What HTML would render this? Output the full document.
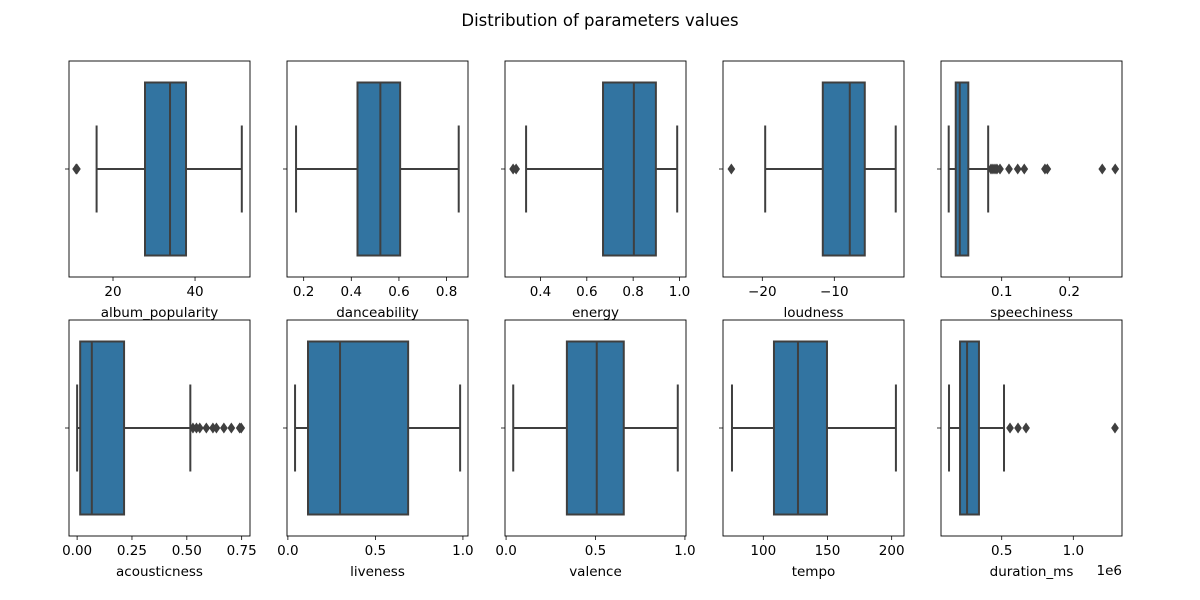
<!DOCTYPE html>
<html><head><meta charset="utf-8"><style>
body{margin:0;background:#fff}
svg{display:block;font-family:"DejaVu Sans","Liberation Sans",sans-serif}
</style></head><body>
<svg id="fig" width="1200" height="600">
<text x="600" y="26" text-anchor="middle" font-size="16.5" fill="#000">Distribution of parameters values</text>
</svg>
<script>
// data per subplot
const names = ["album_popularity","danceability","energy","loudness","speechiness","acousticness","liveness","valence","tempo","duration_ms"];
const domains = [[9.27,53.4],[0.130,0.890],[0.247,1.028],[-25.46,-0.32],[0.0102,0.278],[-0.037,0.788],[-0.005,1.029],[-0.006,1.006],[68.6,209.6],[0.076,1.34]];
const ticks = [[20,40],[0.2,0.4,0.6,0.8],[0.4,0.6,0.8,1.0],[-20,-10],[0.1,0.2],[0,0.25,0.5,0.75],[0,0.5,1.0],[0,0.5,1.0],[100,150,200],[0.5,1.0]];
const tickLabels = [["20","40"],["0.2","0.4","0.6","0.8"],["0.4","0.6","0.8","1.0"],["\u221220","\u221210"],["0.1","0.2"],["0.00","0.25","0.50","0.75"],["0.0","0.5","1.0"],["0.0","0.5","1.0"],["100","150","200"],["0.5","1.0"]];
const whiskLo = [16.0,0.168,0.338,-19.6,0.0216,0.0,0.041,0.04,75.6,0.132];
const q1s = [27.8,0.426,0.67,-11.6,0.032,0.014,0.115,0.34,108.3,0.209];
const medians = [33.9,0.522,0.803,-7.85,0.038,0.067,0.298,0.507,127,0.258];
const q3s = [37.8,0.605,0.898,-5.77,0.0506,0.214,0.687,0.658,149.6,0.341];
const whiskHi = [51.4,0.851,0.99,-1.47,0.080,0.516,0.984,0.96,203.3,0.516];
const outliers = [[11.0,11.2],[],[0.282,0.295],[-24.3],
 [0.0842,0.0871,0.0901,0.093,0.0975,0.1108,0.1237,0.1334,0.164,0.1675,0.2488,0.268],
 [0.528,0.544,0.559,0.589,0.619,0.635,0.669,0.703,0.741,0.748],[],[],[],[0.558,0.614,0.67,1.291]];

const NS="http://www.w3.org/2000/svg";
const svg=document.getElementById('fig');
const colX=[69,287,505,723,941], W=181;
const rowY=[61,320], H=216;
function mk(tag,attrs,parent){const e=document.createElementNS(NS,tag);for(const k in attrs)e.setAttribute(k,attrs[k]);(parent||svg).appendChild(e);return e;}
names.forEach((nm,i)=>{
  const x0=colX[i%5], y0=rowY[Math.floor(i/5)];
  const d=domains[i];
  const sx=v=>x0+(v-d[0])/(d[1]-d[0])*W;
  const cy=y0+H/2;
  const g=mk('g',{});
  
  
  const lc='#3f3f3f', sw=2;
  const w1=mk('line',{x1:sx(whiskLo[i]),x2:sx(q1s[i]),y1:cy,y2:cy,stroke:lc,'stroke-width':sw},g);
  
  const w2=mk('line',{x1:sx(q3s[i]),x2:sx(whiskHi[i]),y1:cy,y2:cy,stroke:lc,'stroke-width':sw},g);
  
  [whiskLo[i],whiskHi[i]].forEach(v=>{const c=mk('line',{x1:sx(v),x2:sx(v),y1:cy-43.5,y2:cy+43.5,stroke:lc,'stroke-width':sw},g);
    });
  const b=mk('rect',{x:sx(q1s[i]),y:cy-86.5,width:sx(q3s[i])-sx(q1s[i]),height:173,fill:'#3274a1',stroke:lc,'stroke-width':sw},g);
  
  const m=mk('line',{x1:sx(medians[i]),x2:sx(medians[i]),y1:cy-86.5,y2:cy+86.5,stroke:lc,'stroke-width':sw},g);
  
  outliers[i].forEach(v=>{const px=sx(v);
    const p=mk('polygon',{points:`${px},${cy-5} ${px+3.5},${cy} ${px},${cy+5} ${px-3.5},${cy}`,fill:lc,stroke:lc,'stroke-width':0.6},g);
    });
  const f=mk('rect',{x:x0,y:y0,width:W,height:H,fill:'none',stroke:'#000','stroke-width':0.9},g);
  
  const yt=mk('line',{x1:x0-4,x2:x0,y1:cy,y2:cy,stroke:'#000','stroke-width':0.8},g);
  
  ticks[i].forEach((t,j)=>{const px=sx(t);
    const tl=mk('line',{x1:px,x2:px,y1:y0+H,y2:y0+H+4,stroke:'#000','stroke-width':0.8},g);
    
    const tx=mk('text',{x:px,y:y0+H+19,'text-anchor':'middle','font-size':13.5,fill:'#000'},g);
    tx.textContent=tickLabels[i][j];
    });
  const xl=mk('text',{x:x0+W/2,y:y0+H+40,'text-anchor':'middle','font-size':13.5,fill:'#000'},g);
  xl.textContent=nm;
  
});
const off=mk('text',{x:1122,y:575,'text-anchor':'end','font-size':13.5,fill:'#000'});
off.textContent='1e6';


</script>
</body></html>
